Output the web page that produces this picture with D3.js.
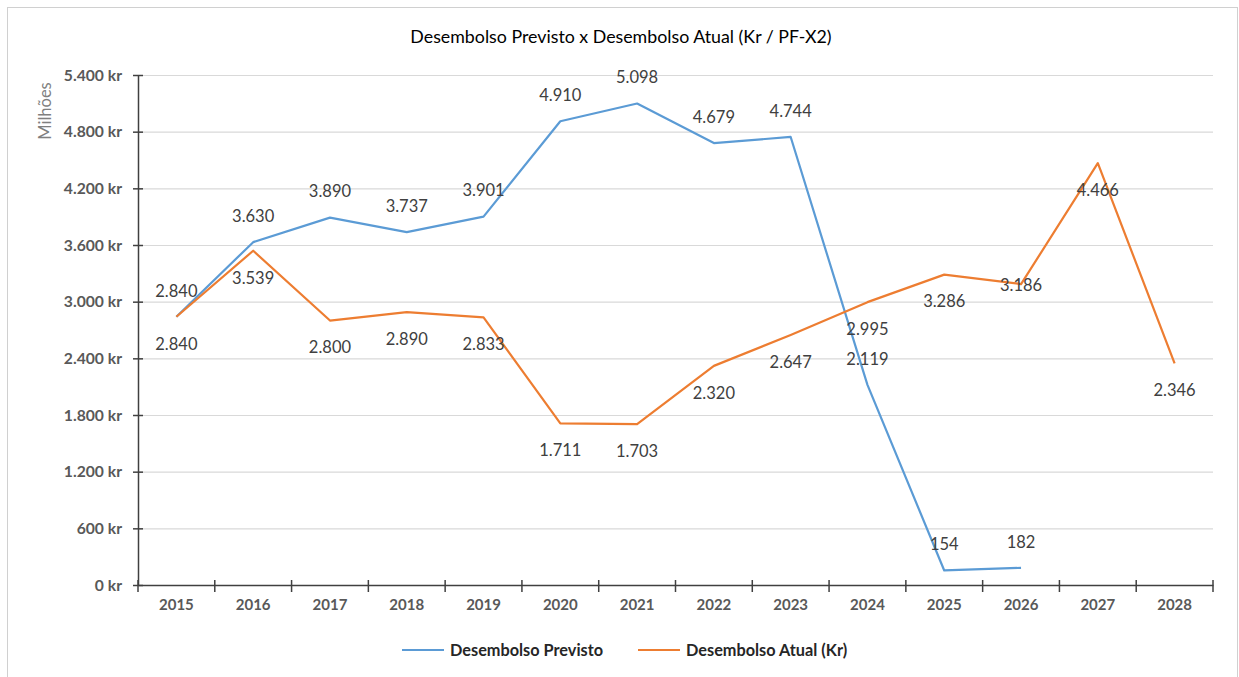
<!DOCTYPE html>
<html>
<head>
<meta charset="utf-8">
<script src="https://cdn.jsdelivr.net/npm/d3@7"></script>
<style>
  html, body { margin: 0; padding: 0; background: #fff; }
  svg { display: block; }
  text { font-family: Lato, "Open Sans", sans-serif; }
</style>
</head>
<body>
<svg id="chart" width="1239" height="677"></svg>
<script>
// ---- data ----
const years = ["2015","2016","2017","2018","2019","2020","2021","2022","2023","2024","2025","2026","2027","2028"];
const previsto = [2840, 3630, 3890, 3737, 3901, 4910, 5098, 4679, 4744, 2119, 154, 182, null, null];
const atual = [2840, 3539, 2800, 2890, 2833, 1711, 1703, 2320, 2647, 2995, 3286, 3186, 4466, 2346];
const yTicks = [0, 600, 1200, 1800, 2400, 3000, 3600, 4200, 4800, 5400];
const seriesNames = ["Desembolso Previsto", "Desembolso Atual (Kr)"];
const titleText = "Desembolso Previsto x Desembolso Atual (Kr / PF-X2)";
const yAxisTitle = "Milhões";

// ---- layout / style ----
const plot = { left: 138, right: 1213, top: 75, bottom: 585 };
const colors = ["#5B9BD5", "#ED7D31"];
const labelOffsets = [-26, 27]; // previsto above, atual below
const atualCenterIdx = { 11: true }; // 2026 label sits on point

const loc = d3.formatLocale({ decimal: ",", thousands: ".", grouping: [3], currency: ["", " kr"] });
const fmt = loc.format(",d");

const svg = d3.select("#chart");

// border
svg.append("rect").attr("x", 7.5).attr("y", 7.5).attr("width", 1230).attr("height", 700)
  .attr("fill", "#fff").attr("stroke", "#d0d0d0").attr("stroke-width", 1);

const x = d3.scaleBand().domain(years).range([plot.left, plot.right]).paddingInner(0).paddingOuter(0);
const y = d3.scaleLinear().domain([0, 5400]).range([plot.bottom, plot.top]);

// gridlines
svg.append("g").selectAll("line").data(yTicks.filter(v => v > 0)).join("line")
  .attr("x1", plot.left).attr("x2", plot.right)
  .attr("y1", d => y(d) + 0.5).attr("y2", d => y(d) + 0.5)
  .attr("stroke", "#d9d9d9").attr("stroke-width", 1.2);

// y axis
const yAxis = d3.axisLeft(y).tickValues(yTicks).tickFormat(d => fmt(d) + " kr").tickSizeInner(0).tickSizeOuter(0).tickPadding(16);
const gy = svg.append("g").attr("transform", `translate(${plot.left},0)`).call(yAxis);
gy.select(".domain").attr("stroke", "#404040").attr("stroke-width", 1.5);
gy.selectAll(".tick text").attr("font-size", 15.7).attr("font-weight", "bold").attr("fill", "#595959")
  .attr("font-family", "Lato, sans-serif");
gy.selectAll(".tick").append("line").attr("x1", -5).attr("x2", 5).attr("stroke", "#404040").attr("stroke-width", 1.5);

// x axis
const xAxis = d3.axisBottom(x).tickSize(0).tickPadding(14);
const gx = svg.append("g").attr("transform", `translate(0,${plot.bottom})`).call(xAxis);
gx.select(".domain").attr("stroke", "#404040").attr("stroke-width", 1.5);
gx.selectAll(".tick text").attr("font-size", 15).attr("font-weight", "bold").attr("fill", "#595959")
  .attr("font-family", "Lato, sans-serif");
const boundaries = years.map(d => x(d)).concat([x(years[years.length - 1]) + x.bandwidth()]);
gx.append("g").selectAll("line").data(boundaries).join("line")
  .attr("x1", d => d).attr("x2", d => d).attr("y1", -5).attr("y2", 7)
  .attr("stroke", "#404040").attr("stroke-width", 1.5);

// lines
const series = [previsto, atual];
const line = d3.line().defined(d => d.v != null).x(d => x(d.year) + x.bandwidth() / 2).y(d => y(d.v));
series.forEach((vals, si) => {
  const pts = years.map((yr, i) => ({ year: yr, v: vals[i], i }));
  svg.append("path").datum(pts).attr("d", line).attr("fill", "none")
    .attr("stroke", colors[si]).attr("stroke-width", 2.2).attr("stroke-linejoin", "round");
});

// labels
series.forEach((vals, si) => {
  const pts = years.map((yr, i) => ({ year: yr, v: vals[i], i })).filter(d => d.v != null);
  svg.append("g").selectAll("text").data(pts).join("text")
    .attr("x", d => x(d.year) + x.bandwidth() / 2)
    .attr("y", d => y(d.v) + ((si === 1 && atualCenterIdx[d.i]) ? 1 : labelOffsets[si]))
    .attr("dy", "0.35em")
    .attr("text-anchor", "middle")
    .attr("font-size", 16.5).attr("fill", "#404040")
    .text(d => fmt(d.v));
});

// title
svg.append("text").attr("x", 621).attr("y", 37).attr("dy", "0.35em").attr("text-anchor", "middle")
  .attr("font-size", 17.8).attr("fill", "#000").text(titleText);

// y axis title
svg.append("text").attr("transform", "translate(45,111) rotate(-90)").attr("dy", "0.35em")
  .attr("text-anchor", "middle").attr("font-size", 16.5).attr("fill", "#7f7f7f").text(yAxisTitle);

// legend
const legendItems = [{ x: 402, name: seriesNames[0], c: colors[0] }, { x: 638, name: seriesNames[1], c: colors[1] }];
const lg = svg.append("g").selectAll("g").data(legendItems).join("g").attr("transform", d => `translate(${d.x},650)`);
lg.append("line").attr("x1", 0).attr("x2", 42).attr("stroke", d => d.c).attr("stroke-width", 2.2);
lg.append("text").attr("x", 48).attr("dy", "0.35em").attr("font-size", 16.3).attr("font-weight", "bold")
  .attr("fill", "#262626").text(d => d.name);
</script>
</body>
</html>
